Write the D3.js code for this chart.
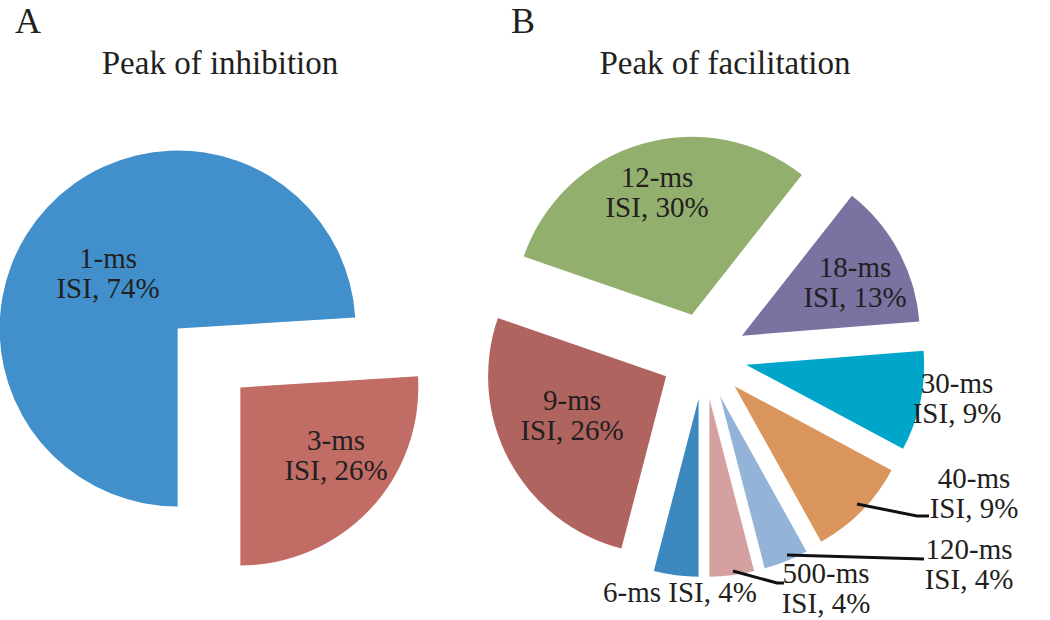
<!DOCTYPE html>
<html>
<head>
<meta charset="utf-8">
<script src="https://cdn.jsdelivr.net/npm/d3@7"></script>
<style>
  html, body { margin: 0; padding: 0; background: #fff; }
  text { font-family: "Liberation Serif", "Times New Roman", serif; fill: #231f20; }
</style>
</head>
<body>
<svg id="chart" width="1050" height="620"></svg>
<script>
// ---- Data ----
const inhibitionCategories = ["1-ms", "3-ms"];
const inhibitionValues = [74, 26];
const inhibitionColors = ["#4190cb", "#c26c66"];

const facilitationCategories = ["6-ms", "9-ms", "12-ms", "18-ms", "30-ms", "40-ms", "120-ms", "500-ms"];
const facilitationValues = [4, 26, 30, 13, 9, 9, 4, 4];
const facilitationColors = ["#3d88bf", "#b0645f", "#93af6e", "#7a72a1", "#00a6c9", "#d9955b", "#94b3d8", "#d5a0a0"];

// ---- Layout (positions / styles) ----
const R = 178, EXPLODE = 43;
const panels = [
  { letter: "A", letterX: 15, title: "Peak of inhibition", titleX: 220, cx: 209, cy: 358,
    cats: inhibitionCategories, vals: inhibitionValues, cols: inhibitionColors,
    labels: {
      "1-ms":  { x: 108, y: 268, lines: ["1-ms", "ISI, 74%"] },
      "3-ms":  { x: 336, y: 450, lines: ["3-ms", "ISI, 26%"] }
    }, leaders: {} },
  { letter: "B", letterX: 511, title: "Peak of facilitation", titleX: 725, cx: 704, cy: 356,
    cats: facilitationCategories, vals: facilitationValues, cols: facilitationColors,
    labels: {
      "6-ms":   { x: 680, y: 602, lines: ["6-ms ISI, 4%"] },
      "9-ms":   { x: 572, y: 410, lines: ["9-ms", "ISI, 26%"] },
      "12-ms":  { x: 657, y: 187, lines: ["12-ms", "ISI, 30%"] },
      "18-ms":  { x: 855, y: 277, lines: ["18-ms", "ISI, 13%"] },
      "30-ms":  { x: 957, y: 393, lines: ["30-ms", "ISI, 9%"] },
      "40-ms":  { x: 974, y: 488, lines: ["40-ms", "ISI, 9%"] },
      "120-ms": { x: 969, y: 559, lines: ["120-ms", "ISI, 4%"] },
      "500-ms": { x: 826, y: 583, lines: ["500-ms", "ISI, 4%"] }
    },
    leaders: {
      "40-ms":  [[857, 504], [917, 516], [929, 516]],
      "120-ms": [[787, 555], [924, 559]],
      "500-ms": [[733, 571], [777, 583], [784, 583]]
    } }
];

const svg = d3.select("#chart");
const pie = d3.pie().sort(null).startAngle(Math.PI).endAngle(3 * Math.PI).value(d => d);
const arc = d3.arc().innerRadius(0).outerRadius(R);
const line = d3.line();

panels.forEach(p => {
  svg.append("text").attr("x", p.letterX).attr("y", 33)
    .style("font-size", "36px").text(p.letter);
  svg.append("text").attr("x", p.titleX).attr("y", 74)
    .attr("text-anchor", "middle").style("font-size", "33px").text(p.title);

  const g = svg.append("g").attr("transform", `translate(${p.cx},${p.cy})`);
  const arcs = pie(p.vals);
  g.selectAll("path.slice").data(arcs).enter().append("path")
    .attr("class", "slice")
    .attr("transform", d => {
      const mid = (d.startAngle + d.endAngle) / 2;
      return `translate(${Math.sin(mid) * EXPLODE},${-Math.cos(mid) * EXPLODE})`;
    })
    .attr("d", arc)
    .attr("fill", (d, i) => p.cols[i]);

  p.cats.forEach(c => {
    if (p.leaders[c]) {
      svg.append("path").attr("d", line(p.leaders[c]))
        .attr("fill", "none").attr("stroke", "#111").attr("stroke-width", 3);
    }
  });

  p.cats.forEach(c => {
    const L = p.labels[c];
    const t = svg.append("text").attr("text-anchor", "middle").style("font-size", "29px");
    L.lines.forEach((ln, k) => {
      t.append("tspan").attr("x", L.x).attr("y", L.y + k * 30).text(ln);
    });
  });
});
</script>
</body>
</html>
